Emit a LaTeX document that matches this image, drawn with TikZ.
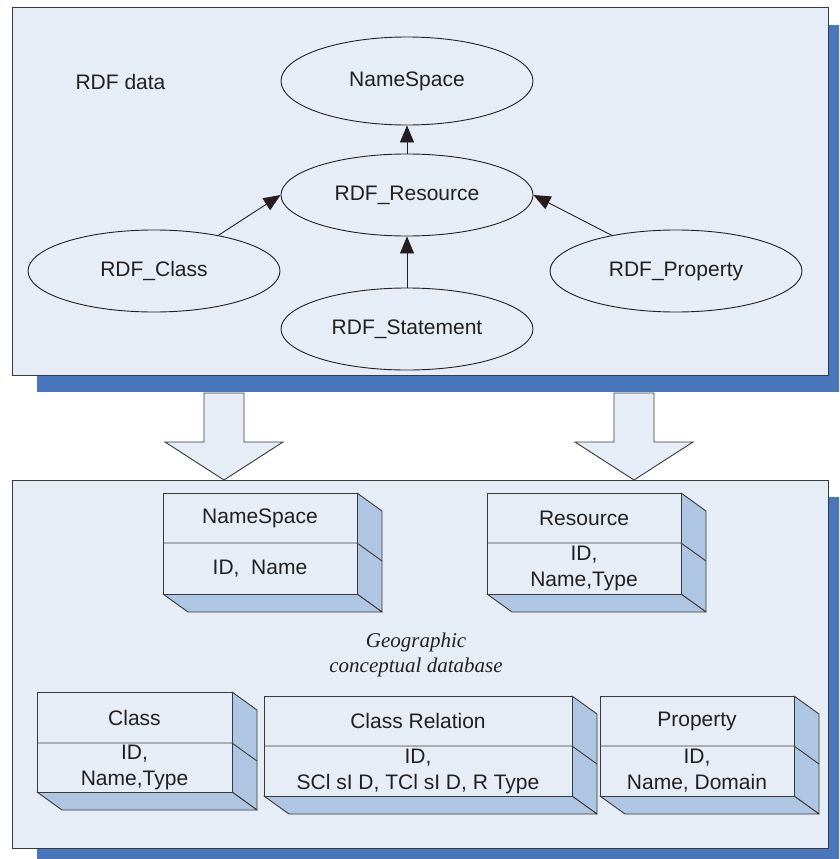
\documentclass[tikz,border=0pt]{standalone}
\usepackage{fontspec}
\setmainfont{Liberation Sans}
\newfontfamily\geofont{Liberation Serif}
\usepackage{xcolor}
\usetikzlibrary{arrows.meta,shapes.geometric,shadows}
\definecolor{rdfpanel}{HTML}{E6EDF7}
\definecolor{rdfshadow}{HTML}{4A77BB}
\definecolor{rdfside}{HTML}{AFC6E3}
\definecolor{rdfink}{HTML}{231F20}
\definecolor{rdfline}{HTML}{3A3A3A}
\newcommand\rdffont{\fontsize{21}{26}\selectfont}

\begin{document}
\begin{tikzpicture}[
  x=1pt,y=-1pt,
  panel/.style={draw=rdfline,line width=1pt,fill=rdfpanel,inner sep=0pt,
    drop shadow={shadow xshift=25pt,shadow yshift=-17pt,fill=rdfshadow,opacity=1}},
  rdfnode/.style={ellipse,draw=rdfink,line width=0.9pt,fill=rdfpanel,inner sep=0pt,
    minimum width=252pt,minimum height=82pt,font=\rdffont,text=rdfink},
  link/.style={-{Triangle[length=17pt,width=14pt]},draw=rdfink,line width=0.9pt},
  bigarrow/.style={draw=rdfline,line width=0.9pt,fill=rdfpanel},
  boxside/.style={draw=rdfline,line width=0.9pt,fill=rdfside,line join=round},
  boxfront/.style={draw=rdfline,line width=0.9pt,fill=rdfpanel},
  boxtext/.style={font=\rdffont,text=rdfink,align=center,inner sep=0pt},
]
\useasboundingbox (0,0) rectangle (839,859);
\fill[white] (0,0) rectangle (839,859);
\clip (0,0) rectangle (839,859);

% two panels with their blue shadows
\node[panel,minimum width=816pt,minimum height=367pt] (rdfdata) at (420,191.5) {};
\node[panel,minimum width=816pt,minimum height=368pt] (geodb) at (420,664) {};

% RDF data: ellipses and links
\node[anchor=west,font=\rdffont,text=rdfink] (rdflabel) at (72,82) {RDF data};
\node[rdfnode,minimum height=88pt] (ns) at (407,81) {NameSpace};
\node[rdfnode] (res) at (407,195) {RDF\_Resource};
\node[rdfnode] (cls) at (154,271) {RDF\_Class};
\node[rdfnode] (stm) at (407,329) {RDF\_Statement};
\node[rdfnode] (prop) at (676,271) {RDF\_Property};
\draw[link] (res.north) -- (ns.south);
\draw[link] (stm.north) -- (res.south);
\draw[link] (cls.29) -- (res.west);
\draw[link] (prop.151) -- (res.east);

% mapping arrows
\draw[bigarrow] (204,393) -- (204,442) -- (165,442) -- (224,480) -- (283,442)
  -- (244,442) -- (244,393) -- cycle;
\draw[bigarrow] (614,393) -- (614,442) -- (575,442) -- (634,480) -- (693,442)
  -- (654,442) -- (654,393) -- cycle;

% tables of the geographic conceptual database
\foreach \l/\r/\t/\d/\b/\title/\body/\name in {
  163/357/493/543/594/{NameSpace}/{ID,\ \ Name}/tns,
  487/681/493/543/594/{Resource}/{ID,\\Name,Type}/tres,
  37/232/692/743/792/{Class}/{ID,\\Name,Type}/tcls,
  264/572/696/746/796/{Class Relation}/{ID,\\SCl sI D, TCl sI D, R Type}/trel,
  600/794/696/746/796/{Property}/{ID,\\Name, Domain}/tprop}
  {
    \filldraw[boxside] (\r,\t) -- ++(25,18) -- ({\r+25},{\b+18}) -- (\r,\b) -- cycle;
    \filldraw[boxside] (\l,\b) -- ++(25,18) -- ({\r+25},{\b+18}) -- (\r,\b) -- cycle;
    \filldraw[boxfront] (\l,\t) rectangle (\r,\b);
    \draw[boxside,fill=none] (\l,\d) -- (\r,\d) -- ++(25,18);
    \node[boxtext] (\name-title) at ({(\l+\r)/2},{(\t+\d)/2}) {\title};
    \node[boxtext] (\name-body) at ({(\l+\r)/2},{(\d+\b)/2}) {\body};
  }

\node[align=center,inner sep=0pt,text=rdfink,
      font={\geofont\itshape\fontsize{21}{25}\selectfont}] (geolabel) at (416,655)
  {Geographic\\conceptual database};
\end{tikzpicture}
\end{document}
